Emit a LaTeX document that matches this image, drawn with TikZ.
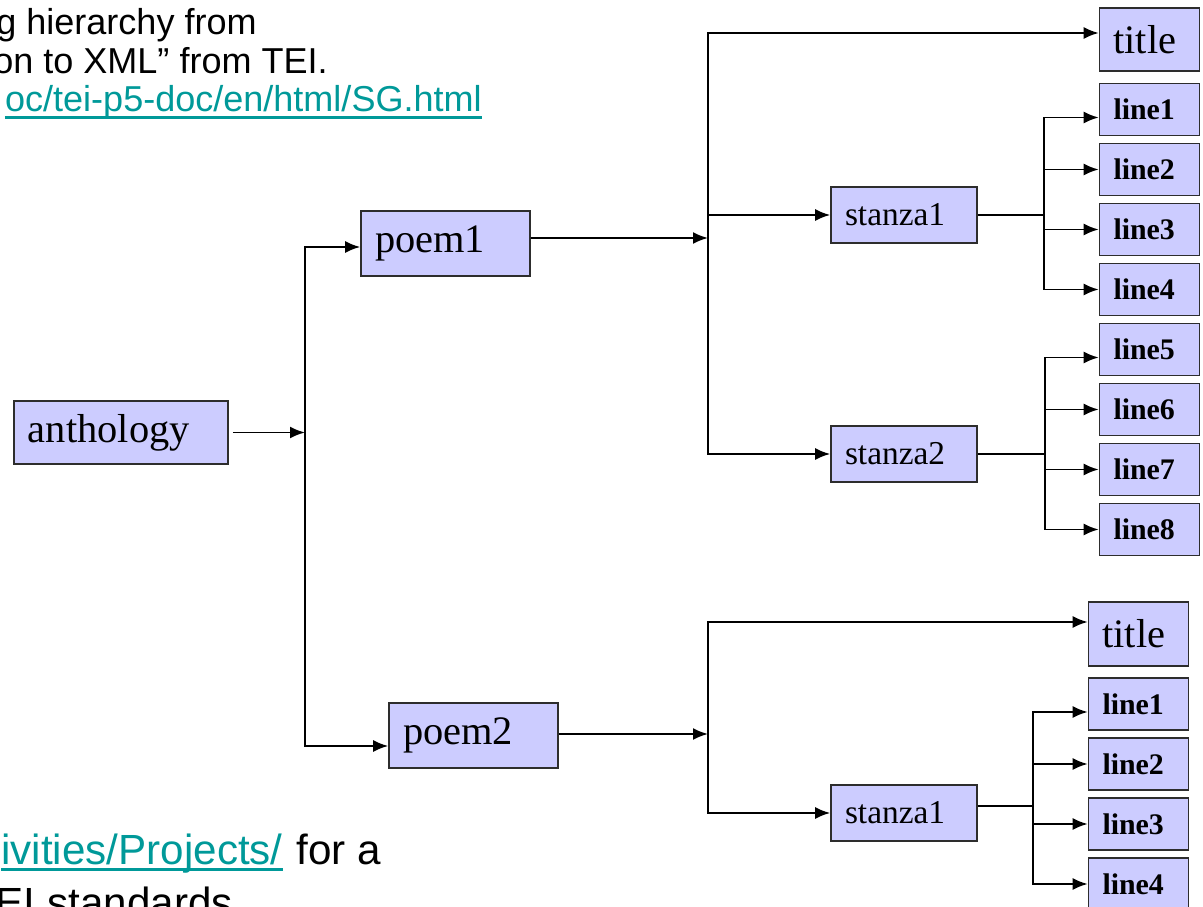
\documentclass[tikz,border=0pt]{standalone}
\usepackage{fontspec}
\usepackage{xcolor}
\setmainfont{Liberation Serif}
\newfontfamily\slidefont{Liberation Sans}
\usetikzlibrary{arrows.meta,positioning}
\definecolor{boxfill}{RGB}{204,204,255}
\definecolor{boxdraw}{RGB}{45,45,45}
\definecolor{linkteal}{RGB}{0,153,153}
\tikzstyle{box} = [rectangle,
                   draw=boxdraw,
                   line width=0.9pt,
                   fill=boxfill,
                   inner xsep=0.28cm,
                   inner ysep=0pt,
                   align=left]
\tikzstyle{rootbox} = [box,
                       text width=3.72cm,
                       minimum height=1.26cm,
                       font=\fontsize{23}{26}\selectfont]
\tikzstyle{poembox} = [box,
                       text width=2.82cm,
                       minimum height=1.3cm,
                       font=\fontsize{23}{26}\selectfont]
\tikzstyle{titlebox} = [box,
                        text width=1.44cm,
                        minimum height=1.27cm,
                        font=\fontsize{23}{26}\selectfont]
\tikzstyle{stanzabox} = [box,
                         text width=2.36cm,
                         minimum height=1.12cm,
                         font=\fontsize{19}{22}\selectfont]
\tikzstyle{linebox} = [box,
                       text width=1.44cm,
                       minimum height=1.04cm,
                       font=\bfseries\fontsize{17}{20}\selectfont]
\tikzstyle{arrow} = [line width=1.1pt,
                     -{Latex[length=0.3cm,width=0.24cm]}]
\tikzstyle{wire} = [line width=1.1pt]
\tikzstyle{slide} = [inner sep=0pt,
                     font=\slidefont\fontsize{20.5}{24}\selectfont]
\tikzstyle{slidebig} = [inner sep=0pt,
                        font=\slidefont\fontsize{24}{29}\selectfont]
\tikzstyle{ulink} = [draw=linkteal, line width=1.4pt]
\begin{document}
\begin{tikzpicture}[node distance=1.2cm]

    \useasboundingbox (0,0) rectangle (24.06,-18.14);
    \clip (0,0) rectangle (24.06,-18.14);

    % slide text around the tree
    \node (head1) [slide, anchor=base east]                at (5.14,-0.70)  {g hierarchy from};
    \node (head2) [slide, anchor=base east]                at (6.56,-1.48)  {on to XML” from TEI.};
    \node (head3) [slide, anchor=base east, text=linkteal] at (9.64,-2.24)  {oc/tei-p5-doc/en/html/SG.html};
    \node (foot1) [slidebig, anchor=base east, text=linkteal] at (5.66,-17.30) {ivities/Projects/};
    \node (foot2) [slidebig, anchor=base west]             at (5.92,-17.30) {for a};
    \node (foot3) [slidebig, anchor=base east]             at (4.66,-18.36) {EI standards};
    \path [ulink] ([yshift=-0.11cm]head3.base west) -- ([yshift=-0.11cm]head3.base east);
    \path [ulink] ([yshift=-0.09cm]foot1.base west) -- ([yshift=-0.09cm]foot1.base east);

    % tree
    \node (anthology) [rootbox]   at (2.42,-8.65)   {anthology};
    \node (poem1)     [poembox]   at (8.91,-4.87)   {poem1};
    \node (poem2)     [poembox]   at (9.47,-14.71)  {poem2};

    \node (title1)    [titlebox]  at (22.99,-0.79)  {title};
    \node (stanza1)   [stanzabox] at (18.08,-4.30)  {stanza1};
    \node (stanza2)   [stanzabox] at (18.08,-9.08)  {stanza2};
    \node (line1)     [linebox]   at (22.99,-2.19)  {line1};
    \node (line2)     [linebox, below of=line1]     {line2};
    \node (line3)     [linebox, below of=line2]     {line3};
    \node (line4)     [linebox, below of=line3]     {line4};
    \node (line5)     [linebox, below of=line4]     {line5};
    \node (line6)     [linebox, below of=line5]     {line6};
    \node (line7)     [linebox, below of=line6]     {line7};
    \node (line8)     [linebox, below of=line7]     {line8};

    \node (title2)    [titlebox]  at (22.77,-12.68) {title};
    \node (stanza3)   [stanzabox] at (18.08,-16.26) {stanza1};
    \node (lineb1)    [linebox]   at (22.77,-14.08) {line1};
    \node (lineb2)    [linebox, below of=lineb1]    {line2};
    \node (lineb3)    [linebox, below of=lineb2]    {line3};
    \node (lineb4)    [linebox, below of=lineb3]    {line4};

    % junctions
    \coordinate (a0) at (6.10,-8.65);
    \coordinate (q1) at (14.16,-4.76);
    \coordinate (q2) at (14.16,-14.68);
    \coordinate (r1) at ([xshift=1.32cm]stanza1.east);
    \coordinate (r2) at ([xshift=1.34cm]stanza2.east);
    \coordinate (r3) at ([xshift=1.10cm,yshift=0.14cm]stanza3.east);

    \draw [arrow, shorten <=0.08cm] (anthology) -- (a0);
    \draw [arrow] (a0) |- ([yshift=-0.07cm]poem1.west);
    \draw [arrow] (a0) |- ([yshift=-0.21cm]poem2.west);

    \draw [arrow] ([yshift=0.11cm]poem1.east) -- (q1);
    \draw [arrow] (q1) |- ([yshift=0.13cm]title1.west);
    \draw [arrow] (q1 |- stanza1.west) -- (stanza1.west);
    \draw [arrow] (q1) |- (stanza2.west);

    \draw [arrow] (poem2.east |- q2) -- (q2);
    \draw [arrow] (q2) |- ([yshift=0.24cm]title2.west);
    \draw [arrow] (q2) |- (stanza3.west);

    \draw [wire]  (stanza1.east) -- (r1);
    \draw [arrow] (r1) |- ([yshift=-0.16cm]line1.west);
    \draw [arrow] (r1 |- line2.west) -- (line2.west);
    \draw [arrow] (r1 |- line3.west) -- (line3.west);
    \draw [arrow] (r1) |- (line4.west);

    \draw [wire]  (stanza2.east) -- (r2);
    \draw [arrow] (r2) |- ([yshift=-0.16cm]line5.west);
    \draw [arrow] (r2 |- line6.west) -- (line6.west);
    \draw [arrow] (r2 |- line7.west) -- (line7.west);
    \draw [arrow] (r2) |- (line8.west);

    \draw [wire]  ([yshift=0.14cm]stanza3.east) -- (r3);
    \draw [arrow] (r3) |- ([yshift=-0.16cm]lineb1.west);
    \draw [arrow] (r3 |- lineb2.west) -- (lineb2.west);
    \draw [arrow] (r3 |- lineb3.west) -- (lineb3.west);
    \draw [arrow] (r3) |- (lineb4.west);

\end{tikzpicture}
\end{document}
